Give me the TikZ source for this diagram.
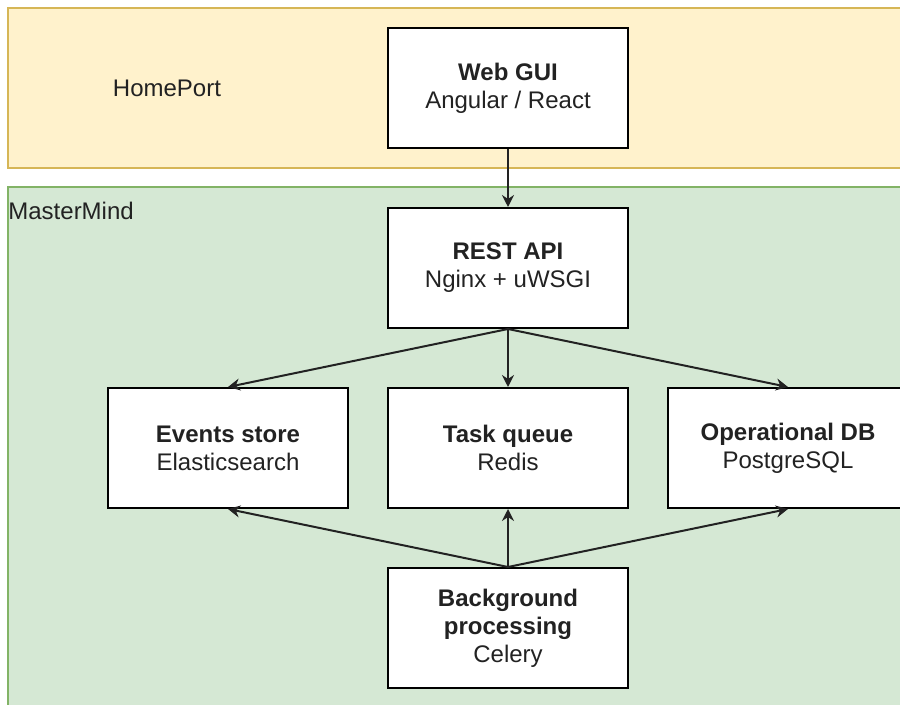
\documentclass[tikz,border=0pt]{standalone}
\usepackage{fontspec}
\setmainfont{Liberation Sans}
\usetikzlibrary{positioning,arrows.meta}
\definecolor{homefill}{HTML}{FFF2CC}
\definecolor{homeline}{HTML}{D6B656}
\definecolor{mindfill}{HTML}{D5E8D4}
\definecolor{mindline}{HTML}{82B366}
\definecolor{ink}{HTML}{222222}

\begin{document}
\begin{tikzpicture}[x=1pt,y=-1pt,
  every node/.style={font=\fontsize{12}{14}\selectfont, text=ink},
  band/.style={line width=1pt},
  comp/.style={rectangle, draw=black, fill=white, line width=1pt, minimum width=120pt, minimum height=60pt, align=center, inner sep=0pt},
  link/.style={-{Stealth[length=6pt,width=6pt,inset=2pt]}, line width=1pt, color=ink}
]
  \clip (0,0) rectangle (450,352.5);
  \draw[band, draw=homeline, fill=homefill] (4,4) rectangle (460,84);
  \draw[band, draw=mindline, fill=mindfill] (4,93.5) rectangle (460,360);
  \node (homeport) at (83.5,44) {HomePort};
  \node[anchor=west, inner sep=0pt] (mastermind) at (4,105.5) {MasterMind};

  \node[comp] (webgui) at (254,44) {\textbf{Web GUI}\\Angular / React};
  \node[comp] (restapi) at (254,134) {\textbf{REST API}\\Nginx + uWSGI};
  \node[comp] (events) at (114,224) {\textbf{Events store}\\Elasticsearch};
  \node[comp] (taskq) at (254,224) {\textbf{Task queue}\\Redis};
  \node[comp] (opdb) at (394,224) {\textbf{Operational DB}\\PostgreSQL};
  \node[comp] (celery) at (254,314) {\textbf{Background}\\\textbf{processing}\\Celery};

  \draw[link] (webgui) -- (restapi);
  \foreach \n in {events,taskq,opdb} \draw[link] (restapi.south) -- (\n.north);
  \foreach \n in {events,taskq,opdb} \draw[link] (celery.north) -- (\n.south);
\end{tikzpicture}
\end{document}
